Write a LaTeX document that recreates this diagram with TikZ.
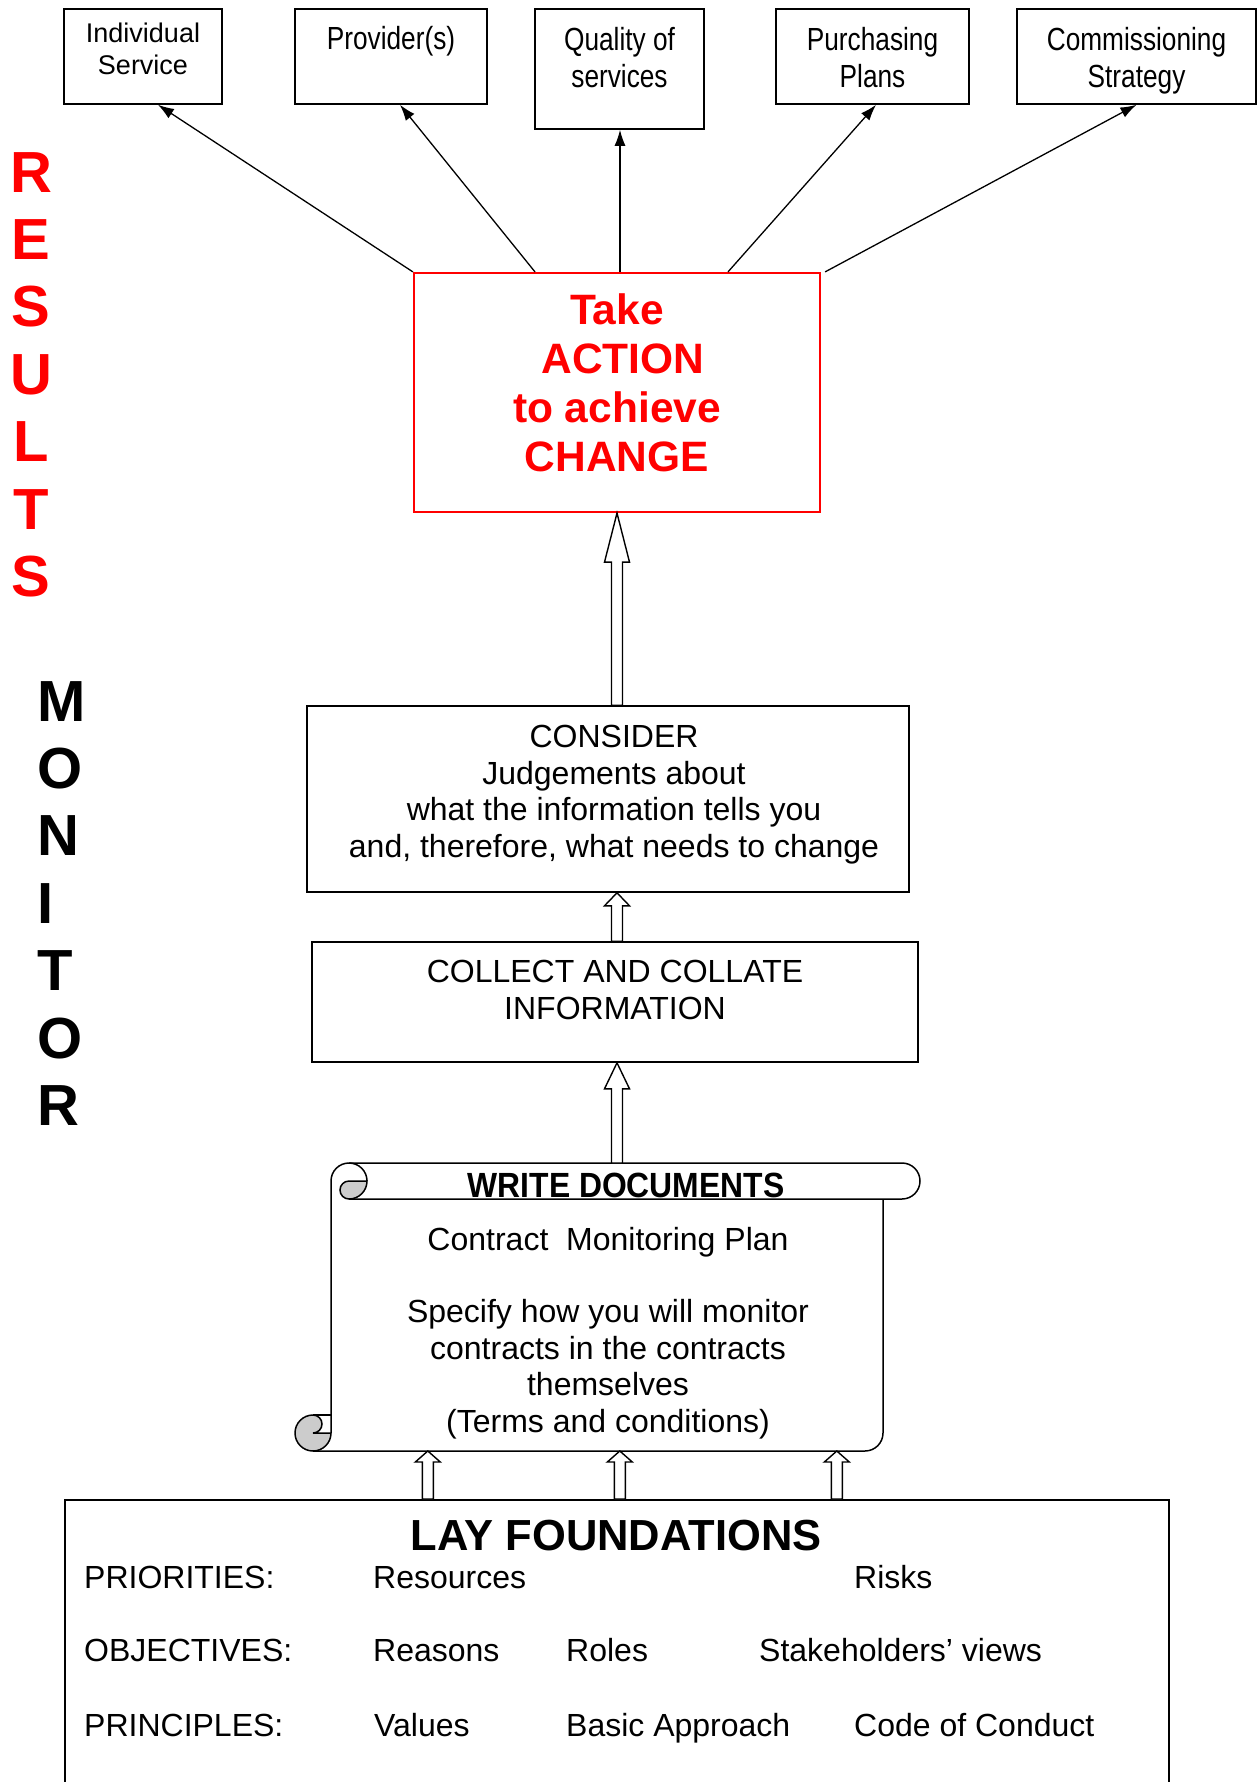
\documentclass[tikz,border=0pt]{standalone}
\usepackage{fontspec}
\setmainfont{Liberation Sans}
\newfontfamily\narrowfont[FakeStretch=0.82]{Liberation Sans}
\newfontfamily\semifont[FakeStretch=0.91]{Liberation Sans}
\usetikzlibrary{arrows.meta, calc}

% hollow block arrow: from, to, head length
\newcommand\blockarrow[3]{%
  \draw [hollow] let \p1 = (#1), \p2 = (#2) in
    (\x1-5.5pt,\y1) -- (\x1-5.5pt,\y2-#3) -- (\x1-12.5pt,\y2-#3)
    -- (\x1,\y2) -- (\x1+12.5pt,\y2-#3) -- (\x1+5.5pt,\y2-#3)
    -- (\x1+5.5pt,\y1) -- cycle;}

\begin{document}
\begin{tikzpicture}
  [
  x = 1pt, y = -1pt,
  % boxes
  box/.style = {rectangle, draw, line width = 1.6pt, inner sep = 0pt},
  actbox/.style = {box, draw = red, line width = 2.2pt},
  % texts
  lbl/.style = {anchor = north, align = center, inner sep = 0pt, yshift = -#1},
  txt/.style = {font = \fontsize{32}{36.8}\selectfont, align = center, inner sep = 0pt},
  smalltxt/.style = {font = \fontsize{27}{32}\selectfont},
  narrowtxt/.style = {font = \narrowfont\fontsize{32}{37}\selectfont},
  redtxt/.style = {font = \fontsize{42.5}{49}\selectfont\bfseries, text = red},
  vword/.style = {font = \fontsize{58}{67.4}\selectfont\bfseries, align = center, inner sep = 0pt},
  cell/.style = {txt, anchor = base west},
  % lines
  line/.style = {draw, line width = 1.3pt, -{Latex[length = 16pt, width = 11pt]}},
  hollow/.style = {draw, line width = 1.4pt, fill = white, line join = miter},
  scroll/.style = {draw, line width = 1.5pt},
  ]

  \useasboundingbox (0,0) rectangle (1259,1782);
  \clip (0,0) rectangle (1259,1782);

  % side words
  \node [vword, text = red, anchor = north] (results) at (31,152) {R\\E\\S\\U\\L\\T\\S};
  \node [vword, align = left, anchor = north west] (monitor) at (37.5,681) {M\\O\\N\\I\\T\\O\\R};

  % top boxes
  \node [box, minimum width = 158pt, minimum height = 95pt,
    label = {[lbl = 15pt, smalltxt]north:{Individual\\Service}}] (ind) at (143,56.5) {};
  \node [box, minimum width = 192pt, minimum height = 95pt,
    label = {[lbl = 18pt, narrowtxt]north:{Provider(s)}}] (prov) at (391,56.5) {};
  \node [box, minimum width = 169pt, minimum height = 120pt,
    label = {[lbl = 18.5pt, narrowtxt]north:{Quality of\\services}}] (qual) at (619.5,69) {};
  \node [box, minimum width = 193pt, minimum height = 95pt,
    label = {[lbl = 18.5pt, narrowtxt]north:{Purchasing\\Plans}}] (purch) at (872.5,56.5) {};
  \node [box, minimum width = 239pt, minimum height = 95pt,
    label = {[lbl = 18.5pt, narrowtxt]north:{Commissioning\\Strategy}}] (comm) at (1136.5,56.5) {};

  % main steps
  \node [actbox, minimum width = 406pt, minimum height = 239pt,
    label = {[lbl = 22pt, redtxt]north:{Take\\\hspace*{12pt}ACTION\\to achieve\\CHANGE}}] (action) at (617,392.5) {};
  \node [box, minimum width = 602pt, minimum height = 186pt,
    label = {[lbl = 19.5pt, txt, xshift = 6pt]north:{CONSIDER\\Judgements about\\what the information tells you\\and, therefore, what needs to change}}] (consider) at (608,799) {};
  \node [box, minimum width = 606pt, minimum height = 120pt,
    label = {[lbl = 19pt, txt]north:{COLLECT AND COLLATE\\INFORMATION}}] (collect) at (615,1002) {};

  % scroll
  \draw [scroll] (331,1433) -- (331,1181) arc [start angle = 180, end angle = 270, radius = 18]
    -- (902,1163) arc [start angle = 270, end angle = 450, radius = 18] -- (349,1199);
  \draw [scroll] (349,1163) arc [start angle = 270, end angle = 360, radius = 18];
  \draw [scroll, fill = black!20] (349,1181) -- (367,1181) arc [start angle = 0, end angle = 90, radius = 18]
    arc [start angle = 90, end angle = 270, radius = 9] -- cycle;
  \draw [scroll] (883,1199) -- (883,1433) arc [start angle = 0, end angle = 90, radius = 18] -- (313,1451);
  \draw [scroll, fill = black!20] (313,1415) arc [start angle = 270, end angle = 0, radius = 18]
    -- (313,1433) arc [start angle = 90, end angle = -90, radius = 9] -- cycle;
  \draw [scroll] (313,1415) -- (331,1415);
  \coordinate (wd-top) at (617,1163);
  \coordinate (wd-bot) at (619,1451);
  \node [anchor = base, font = \semifont\fontsize{35}{40}\selectfont\bfseries] (wd-head) at (626,1197) {WRITE DOCUMENTS};
  \node [txt, anchor = north] (wd-body) at (608,1227) {Contract\ \ Monitoring Plan\\[35pt]Specify how you will monitor\\contracts in the contracts\\themselves\\(Terms and conditions)};

  % foundations
  \node [box, anchor = north west, minimum width = 1104pt, minimum height = 400pt] (found) at (64,1499) {};
  \node [anchor = base, font = \fontsize{43.5}{50}\selectfont\bfseries] (lay) at (616,1550) {LAY FOUNDATIONS};
  \node [cell] (pri) at (84,1588) {PRIORITIES:};
  \node [cell] (res) at (373,1588) {Resources};
  \node [cell] (risk) at (854,1588) {Risks};
  \node [cell] (obj) at (84,1661) {OBJECTIVES:};
  \node [cell] (rea) at (373,1661) {Reasons};
  \node [cell] (rol) at (566,1661) {Roles};
  \node [cell] (stake) at (759,1661) {Stakeholders’ views};
  \node [cell] (prin) at (84,1736) {PRINCIPLES:};
  \node [cell] (val) at (374,1736) {Values};
  \node [cell] (basic) at (566,1736) {Basic Approach};
  \node [cell] (code) at (854,1736) {Code of Conduct};

  % path
  \path [line] (action.north west) -- ([xshift = 15pt]ind.south);
  \path [line] ([xshift = -82pt]action.north) -- ([xshift = 9pt]prov.south);
  \path [line] ([xshift = 3pt]action.north) -- ([xshift = 0.5pt]qual.south);
  \path [line] ([xshift = 111pt]action.north) -- ([xshift = 3.5pt]purch.south);
  \path [line] ([xshift = 4pt]action.north east) -- (comm.south);

  \blockarrow{action.south |- consider.north}{action.south}{49pt}
  \blockarrow{action.south |- collect.north}{consider.south}{13pt}
  \blockarrow{wd-top}{collect.south}{26pt}
  \blockarrow{[xshift = -189pt]found.north}{wd-bot}{11pt}
  \blockarrow{[xshift = 3pt]found.north}{wd-bot}{11pt}
  \blockarrow{[xshift = 220pt]found.north}{wd-bot}{11pt}

\end{tikzpicture}
\end{document}
